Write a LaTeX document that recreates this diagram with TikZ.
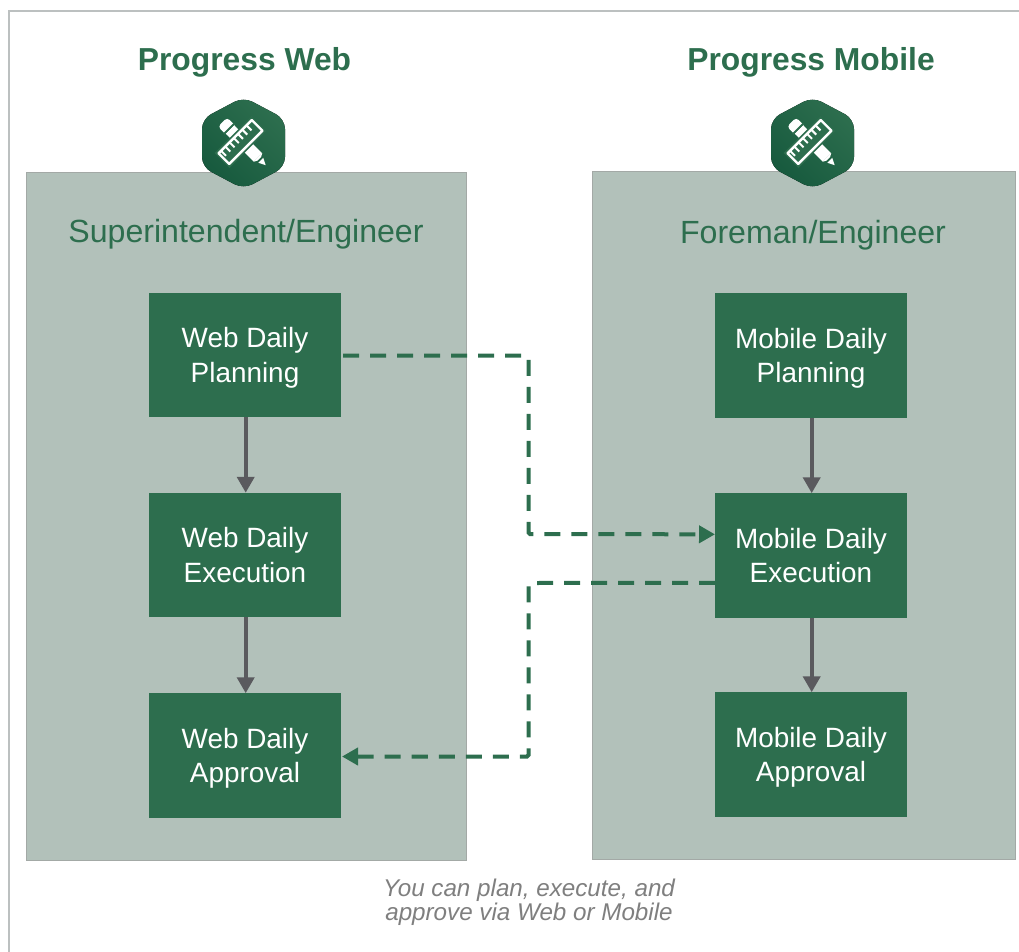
\documentclass[tikz,border=0pt]{standalone}
\usepackage{fontspec}
\setmainfont{Liberation Sans}
\usetikzlibrary{arrows.meta,calc}
\definecolor{dgreen}{HTML}{2D6E4E}
\definecolor{dgreenb}{HTML}{175A3E}
\definecolor{panelc}{HTML}{B2C1BA}
\definecolor{panelb}{HTML}{A3A9A6}
\definecolor{framec}{HTML}{BCC0C0}
\definecolor{greyarrow}{HTML}{5A5A5E}
\definecolor{capc}{HTML}{7F7F7F}
\newcommand{\twolines}[2]{\rule{0pt}{28pt}#1\\#2\rule[-8pt]{0pt}{8pt}}
\tikzset{
  panel/.style={draw=panelb,line width=1pt,fill=panelc,minimum width=#1,inner sep=0pt,outer sep=0pt},
  stepbox/.style={fill=dgreen,text=white,minimum width=192pt,minimum height=124.5pt,align=center,inner sep=0pt,outer sep=0pt,font=\fontsize{27.9}{34.8}\selectfont},
  flow/.style={draw=greyarrow,line width=4pt,-{Triangle[length=16pt,width=17pt]}},
  xlink/.style={draw=dgreen,line width=4pt,dash pattern=on 16pt off 11pt,rounded corners=1.5pt,-{Triangle[length=16pt,width=17pt]}},
  head/.style={text=dgreen,font=\bfseries\fontsize{31.8}{36}\selectfont,inner sep=0pt},
  role/.style={text=dgreen,font=\fontsize{32.1}{36}\selectfont,inner sep=0pt},
}
\begin{document}
\begin{tikzpicture}[x=1pt,y=-1pt]
\useasboundingbox (0,0) rectangle (1019,952);
\draw[framec,line width=2pt] (8.5,952) -- (8.5,11.5) -- (1019,11.5);
\node[panel=440pt,minimum height=687pt,anchor=north west] (lp) at (26,173) {};
\node[panel=423pt,minimum height=687pt,anchor=north west] (rp) at (592,172) {};
\node[head] (lh) at (244.5,62.5) {Progress Web};
\node[head] (rh) at (811,62.5) {Progress Mobile};
\node[role] (lr) at (246,234) {Superintendent/Engineer};
\node[role] (rr) at (813,235) {Foreman/Engineer};
\node[stepbox] (wp) at (245,355) {\twolines{Web Daily}{Planning}};
\node[stepbox] (we) at (245,555) {\twolines{Web Daily}{Execution}};
\node[stepbox] (wa) at (245,755.5) {\twolines{Web Daily}{Approval}};
\node[stepbox] (mp) at (811,355.5) {\twolines{Mobile Daily}{Planning}};
\node[stepbox] (me) at (811,555.5) {\twolines{Mobile Daily}{Execution}};
\node[stepbox] (ma) at (811,754.5) {\twolines{Mobile Daily}{Approval}};
\draw[flow] ([xshift=0.7pt]wp.south) -- ([xshift=0.7pt]we.north);
\draw[flow] ([xshift=0.7pt]we.south) -- ([xshift=0.7pt]wa.north);
\draw[flow] ([xshift=0.7pt]mp.south) -- ([xshift=0.7pt]me.north);
\draw[flow] ([xshift=0.7pt]me.south) -- ([xshift=0.7pt]ma.north);
\coordinate (e1) at (528.5,534);
\coordinate (e2) at (528.5,583);
\draw[xlink] ([xshift=2pt,yshift=-0.5pt]wp.east) -- ([yshift=-0.5pt]wp.east -| e1) -- (e1) -- ($(me.north west)!0.33!(me.south west)$);
\draw[xlink] ($(me.north west)!0.72!(me.south west)$) -- (e2) -- ([yshift=-1pt]e2 |- wa.east) -- ([xshift=1pt,yshift=-1pt]wa.east);
\node[text=capc,font=\itshape\fontsize{24.2}{24}\selectfont,align=center,inner sep=0pt] (cap) at (529,902) {You can plan, execute, and\\approve via Web or Mobile};
\foreach \n/\cx/\cy in {l/243.5/143,r/812.5/143}{
  \begin{scope}[shift={(\cx,\cy)}]
    \fill[bottom color=dgreenb,top color=dgreen,shading angle=-45,rounded corners=10pt]
      (0,-46) -- (41.5,-24) -- (41.5,24) -- (0,46) -- (-41.5,24) -- (-41.5,-24) -- cycle;
    \begin{scope}[shift={(1,1)},rotate=45]
      \fill[white,rounded corners=3.5pt] (-6.5,-31) rectangle (6.5,-18);
      \fill[dgreen] (-7.5,-22.5) rectangle (7.5,-20.5);
      \fill[white] (-6,-20.5) rectangle (6,19);
      \fill[white] (-6,19) -- (6,19) -- (2.5,21) -- (-2.5,21) -- cycle;
      \fill[white] (-3.5,23) -- (3.5,23) -- (0,30) -- cycle;
    \end{scope}
    \begin{scope}[shift={(-3,-1)},rotate=-45]
      \fill[dgreen] (-10.5,-26) rectangle (10.5,26);
      \draw[white,line width=2.4pt,line join=round,fill=dgreen] (-7.5,-23.5) rectangle (7.5,23.5);
      \foreach \t in {-16,-10,-4,2,8,14,20}{ \fill[white] (-7.5,\t-1) rectangle (-0.5,\t+1); }
    \end{scope}
  \end{scope}
}
\end{tikzpicture}
\end{document}
